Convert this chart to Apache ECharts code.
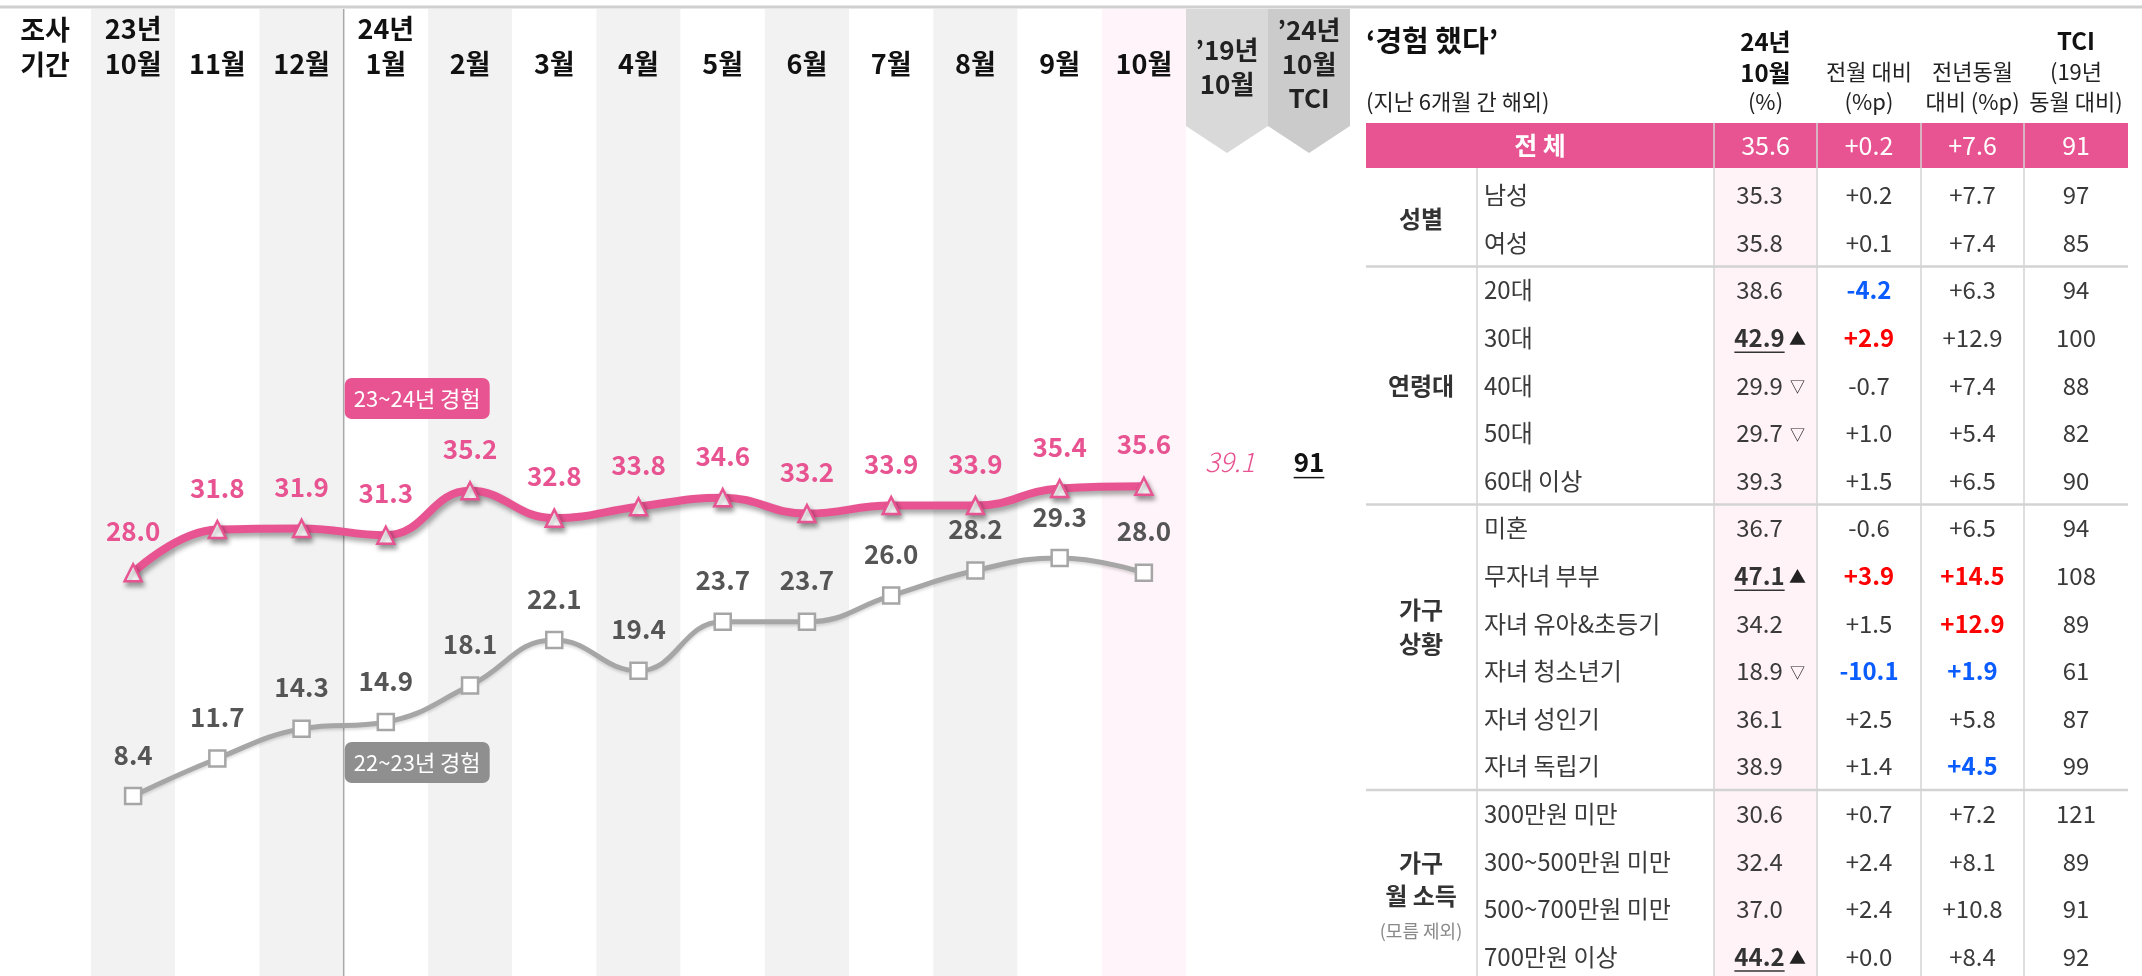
<!DOCTYPE html>
<html>
<head>
<meta charset="utf-8">
<script src="https://cdn.jsdelivr.net/npm/echarts@6/dist/echarts.min.js"></script>
<style>
html, body { margin: 0; padding: 0; background: #fff; }
#chart { width: 2142px; height: 976px; }
</style>
</head>
<body>
<div id="chart"></div>
<script>
// 조사 기간 (x축)
const months = ['23년\n10월', '11월', '12월', '24년\n1월', '2월', '3월', '4월', '5월', '6월', '7월', '8월', '9월', '10월'];
// 23~24년 경험 / 22~23년 경험
const exp2324 = [28.0, 31.8, 31.9, 31.3, 35.2, 32.8, 33.8, 34.6, 33.2, 33.9, 33.9, 35.4, 35.6];
const exp2223 = [8.4, 11.7, 14.3, 14.9, 18.1, 22.1, 19.4, 23.7, 23.7, 26.0, 28.2, 29.3, 28.0];
const ref2019Oct = 39.1;
const tciOct = 91;

// 오른쪽 표
const groupNames = ['성별', '연령대', '가구\n상황', '가구\n월 소득'];
const groupSizes = [2, 5, 6, 4];
const rowLabels = ['남성', '여성', '20대', '30대', '40대', '50대', '60대 이상', '미혼', '무자녀 부부', '자녀 유아&초등기',
  '자녀 청소년기', '자녀 성인기', '자녀 독립기', '300만원 미만', '300~500만원 미만', '500~700만원 미만', '700만원 이상'];
const pct = [35.3, 35.8, 38.6, 42.9, 29.9, 29.7, 39.3, 36.7, 47.1, 34.2, 18.9, 36.1, 38.9, 30.6, 32.4, 37.0, 44.2];
const pctMark = ['', '', '', '▲', '▽', '▽', '', '', '▲', '', '▽', '', '', '', '', '', '▲'];
const momDiff = [0.2, 0.1, -4.2, 2.9, -0.7, 1.0, 1.5, -0.6, 3.9, 1.5, -10.1, 2.5, 1.4, 0.7, 2.4, 2.4, 0.0];
const momHi = ['', '', 'b', 'r', '', '', '', '', 'r', '', 'b', '', '', '', '', '', ''];
const yoyDiff = [7.7, 7.4, 6.3, 12.9, 7.4, 5.4, 6.5, 6.5, 14.5, 12.9, 1.9, 5.8, 4.5, 7.2, 8.1, 10.8, 8.4];
const yoyHi = ['', '', '', '', '', '', '', '', 'r', 'r', 'b', '', 'b', '', '', '', ''];
const tci = [97, 85, 94, 100, 88, 82, 90, 94, 108, 89, 61, 87, 99, 121, 89, 91, 92];
const totalRow = { pct: 35.6, mom: 0.2, yoy: 7.6, tci: 91 };

const PINK = '#e75491';
const GRAY = '#a6a6a6';
const FONT = '"Noto Sans CJK KR", "Noto Sans", sans-serif';
const HI = { r: '#ff0000', b: '#0a5cff' };

const GRID_L = 91, GRID_R = 1186;
const colW = (GRID_R - GRID_L) / months.length;

const ctx = document.createElement('canvas').getContext('2d');
const textW = (t, font) => { ctx.font = font; return ctx.measureText(t).width; };
const sign = v => (v < 0 ? '' : '+') + v.toFixed(1);

function txt(x, y, text, o) {
  o = o || {};
  const font = (o.style || '') + ' ' + (o.weight || 'normal') + ' ' + (o.size || 22) + 'px ' + FONT;
  return {
    type: 'text', x: x, y: y, z: o.z || 10,
    style: {
      text: text, font: font, fill: o.color || '#333',
      align: o.align || 'center', verticalAlign: 'middle',
      textAlign: o.align || 'center', textVerticalAlign: 'middle',
      lineHeight: o.lh || Math.round((o.size || 22) * 1.35)
    }
  };
}
function line(x1, y1, x2, y2, color, w, z) {
  return { type: 'line', z: z || 5, shape: { x1: x1, y1: y1, x2: x2, y2: y2 }, style: { stroke: color, lineWidth: w } };
}
function underlined(x, y, text, o) {
  const font = (o.weight || 'normal') + ' ' + o.size + 'px ' + FONT;
  const w = textW(text, font);
  return [txt(x, y, text, o), line(x - w / 2, y + o.size * 0.6, x + w / 2, y + o.size * 0.6, o.color || '#333', 1.5, 10)];
}

// ---- 왼쪽 헤더/장식 ----
const g = [];
g.push(line(0, 7, 2142, 7, '#cfcfcf', 3, 6));
g.push(txt(45, 47, '조사\n기간', { size: 27, weight: 'bold', color: '#111', lh: 35 }));
// 연도 구분선
g.push(line(GRID_L + 3 * colW, 9, GRID_L + 3 * colW, 976, '#a9a9a9', 1.5, 1));

// '19년 10월 / '24년 10월 TCI 꺾쇠
const chevrons = [
  { x0: GRID_R, x1: GRID_R + 82, color: '#d9d9d9', text: '’19년\n10월', cy: 67 },
  { x0: GRID_R + 82, x1: GRID_R + 164, color: '#cbcbcb', text: '’24년\n10월\nTCI', cy: 64 }
];
chevrons.forEach(c => {
  g.push({ type: 'polygon', z: 2, shape: { points: [[c.x0, 9], [c.x1, 9], [c.x1, 126], [(c.x0 + c.x1) / 2, 153], [c.x0, 126]] }, style: { fill: c.color } });
  g.push(txt((c.x0 + c.x1) / 2, c.cy, c.text, { size: 26, weight: 'bold', color: '#222', lh: 34 }));
});
g.push(txt(GRID_R + 44, 462, ref2019Oct.toFixed(1), { size: 27, style: 'italic', weight: '300', color: PINK }));
underlined(GRID_R + 123, 462, String(tciOct), { size: 26, weight: 'bold', color: '#111' }).forEach(e => g.push(e));

// 범례 태그
function tag(y, label, color) {
  const x = GRID_L + 3 * colW + 1;
  g.push({ type: 'rect', z: 8, shape: { x: x, y: y, width: 145, height: 41, r: 7 }, style: { fill: color } });
  g.push(txt(x + 72.5, y + 20.5, label, { size: 22, color: '#fff', z: 9 }));
}
tag(378, '23~24년 경험', PINK);
tag(742, '22~23년 경험', '#8f8f8f');

// ---- 오른쪽 표 ----
const TX0 = 1366, TX1 = 2128;
const colX = [1477, 1714, 1817, 1921, 2024];
const cC = [1765.5, 1869, 1972.5, 2076];
const ROW0 = 195, ROWH = 47.6;
const FS = 24;

g.push(txt(TX0, 41, '‘경험 했다’', { size: 29, weight: 'bold', color: '#111', align: 'left' }));
g.push(txt(TX0, 102, '(지난 6개월 간 해외)', { size: 22, color: '#222', align: 'left' }));
g.push(txt(cC[0], 57, '24년\n10월', { size: 24, weight: 'bold', color: '#111', lh: 31 }));
g.push(txt(cC[0], 102, '(%)', { size: 22, color: '#222' }));
g.push(txt(cC[1], 72, '전월 대비', { size: 22, color: '#222' }));
g.push(txt(cC[1], 102, '(%p)', { size: 22, color: '#222' }));
g.push(txt(cC[2], 72, '전년동월', { size: 22, color: '#222' }));
g.push(txt(cC[2], 102, '대비 (%p)', { size: 22, color: '#222' }));
g.push(txt(cC[3], 41, 'TCI', { size: 24, weight: 'bold', color: '#111' }));
g.push(txt(cC[3], 72, '(19년', { size: 22, color: '#222' }));
g.push(txt(cC[3], 102, '동월 대비)', { size: 22, color: '#222' }));

// 전체 행
g.push({ type: 'rect', z: 3, shape: { x: TX0, y: 123, width: TX1 - TX0, height: 45 }, style: { fill: PINK } });
g.push({ type: 'rect', z: 2, shape: { x: colX[1], y: 168, width: colX[2] - colX[1], height: 976 - 168 }, style: { fill: '#fff3f8' } });
g.push(txt((TX0 + colX[1]) / 2, 145.5, '전 체', { size: 25, weight: 'bold', color: '#fff' }));
g.push(txt(cC[0], 145.5, totalRow.pct.toFixed(1), { size: 25, color: '#fff' }));
g.push(txt(cC[1], 145.5, sign(totalRow.mom), { size: 25, color: '#fff' }));
g.push(txt(cC[2], 145.5, sign(totalRow.yoy), { size: 25, color: '#fff' }));
g.push(txt(cC[3], 145.5, String(totalRow.tci), { size: 25, color: '#fff' }));
colX.slice(1).forEach(x => g.push(line(x, 123, x, 976, '#d3d3d3', 1.5, 4)));
g.push(line(colX[0], 168, colX[0], 976, '#d3d3d3', 1.5, 4));

// 그룹
let start = 0;
groupNames.forEach((name, gi) => {
  const n = groupSizes[gi];
  const yTop = ROW0 + start * ROWH - ROWH / 2;
  const yMid = yTop + n * ROWH / 2;
  if (gi === 3) {
    g.push(txt(1421, yMid - 6, name, { size: 24, weight: 'bold', color: '#333', lh: 33 }));
    g.push(txt(1421, yMid + 46, '(모름 제외)', { size: 18, color: '#888' }));
  } else {
    g.push(txt(1421, yMid - (name.indexOf('\n') > 0 ? 20 : 0), name, { size: 24, weight: 'bold', color: '#333', lh: 34 }));
  }
  if (gi > 0) g.push(line(TX0, yTop, TX1, yTop, '#d3d3d3', 2.5, 4));
  start += n;
});

rowLabels.forEach((lab, i) => {
  const y = ROW0 + i * ROWH;
  g.push(txt(1484, y, lab, { size: FS, color: '#3a3a3a', align: 'left' }));
  const pv = pct[i].toFixed(1);
  if (pctMark[i] === '▲') {
    underlined(cC[0] - 6, y, pv, { size: FS, weight: 'bold', color: '#333' }).forEach(e => g.push(e));
  } else {
    g.push(txt(cC[0] - 6, y, pv, { size: FS, color: '#3a3a3a' }));
  }
  if (pctMark[i]) g.push(txt(cC[0] + 32, y + 1, pctMark[i], { size: pctMark[i] === '▲' ? 17 : 15, color: '#222' }));
  g.push(txt(cC[1], y, sign(momDiff[i]), momHi[i] ? { size: FS, weight: 'bold', color: HI[momHi[i]] } : { size: FS, color: '#3a3a3a' }));
  g.push(txt(cC[2], y, sign(yoyDiff[i]), yoyHi[i] ? { size: FS, weight: 'bold', color: HI[yoyHi[i]] } : { size: FS, color: '#3a3a3a' }));
  g.push(txt(cC[3], y, String(tci[i]), { size: FS, color: '#3a3a3a' }));
});

// 열 배경: 짝수 회색, 마지막(10월) 분홍
const bandColors = months.map((m, i) => i === months.length - 1 ? '#fff4f9' : (i % 2 === 0 ? '#f2f2f2' : '#ffffff'));

const myChart = echarts.init(document.getElementById('chart'));
const shadow = { shadowColor: 'rgba(0,0,0,0.35)', shadowBlur: 5, shadowOffsetX: 2, shadowOffsetY: 4 };

const option = {
  animation: false,
  backgroundColor: '#fff',
  textStyle: { fontFamily: FONT },
  grid: { left: GRID_L, right: 2142 - GRID_R, top: 9, bottom: 0 },
  xAxis: {
    type: 'category',
    data: months,
    position: 'top',
    boundaryGap: true,
    axisLine: { show: false },
    axisTick: { show: false },
    axisLabel: {
      show: true, inside: true, interval: 0, margin: 72, verticalAlign: 'bottom',
      fontSize: 27, fontWeight: 'bold', lineHeight: 35, color: '#111', fontFamily: FONT
    },
    splitArea: { show: true, interval: 0, areaStyle: { color: bandColors } }
  },
  yAxis: { type: 'value', min: -7.4, max: 77.5, show: false, splitLine: { show: false } },
  series: [
    {
      name: '22~23년 경험',
      type: 'line',
      data: exp2223,
      smooth: 0.45,
      z: 3,
      symbol: 'rect',
      symbolSize: 16,
      lineStyle: { color: GRAY, width: 5, shadowColor: 'rgba(0,0,0,0.15)', shadowBlur: 3, shadowOffsetY: 2 },
      itemStyle: { color: '#fff', borderColor: GRAY, borderWidth: 2.5 },
      label: {
        show: true, position: 'top', distance: 19,
        fontSize: 26, fontWeight: 'bold', color: '#555', fontFamily: FONT,
        formatter: p => p.value.toFixed(1)
      }
    },
    {
      name: '23~24년 경험',
      type: 'line',
      data: exp2324,
      smooth: 0.45,
      z: 4,
      symbol: 'triangle',
      symbolSize: 17,
      lineStyle: Object.assign({ color: PINK, width: 8 }, shadow),
      itemStyle: Object.assign({ color: '#fff', borderColor: PINK, borderWidth: 2.5 }, shadow),
      label: {
        show: true, position: 'top', distance: 19,
        fontSize: 26, fontWeight: 'bold', color: PINK, fontFamily: FONT,
        formatter: p => p.value.toFixed(1)
      }
    }
  ],
  graphic: { elements: g }
};
myChart.setOption(option, true);
window.onresize = myChart.resize;
</script>
</body>
</html>
